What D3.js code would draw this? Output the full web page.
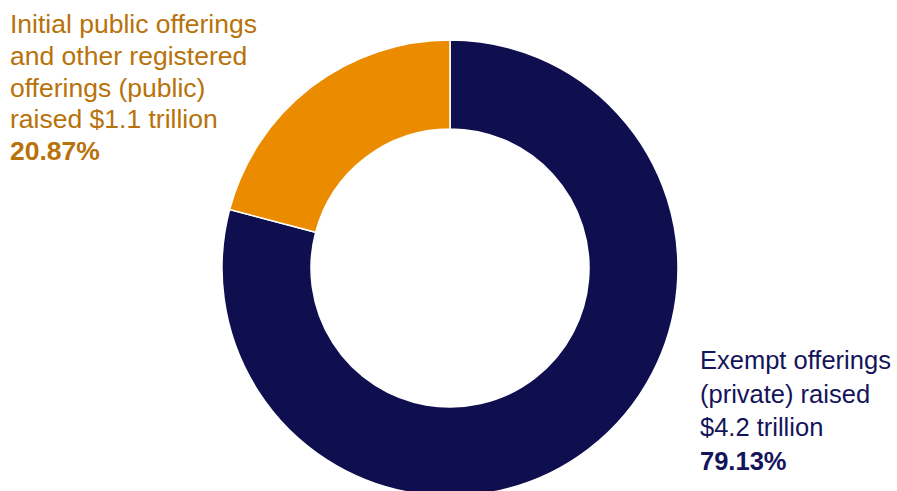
<!DOCTYPE html>
<html>
<head>
<meta charset="utf-8">
<script src="https://cdn.jsdelivr.net/npm/d3@7"></script>
<style>
  body { margin: 0; background: #fff; }
  svg { display: block; font-family: "Liberation Sans", Arial, sans-serif; }
</style>
</head>
<body>
<svg id="chart" width="897" height="491"></svg>
<script>
// data
var categories = ["Exempt offerings (private)", "Initial public offerings and other registered offerings (public)"];
var shares = [79.13, 20.87];
var raised = ["$4.2 trillion", "$1.1 trillion"];
var colors = ["#0f0f50", "#eb8c00"];
var textColors = ["#14145a", "#b8720a"];
var labelLines = [
  ["Exempt offerings", "(private) raised", "$4.2 trillion"],
  ["Initial public offerings", "and other registered", "offerings (public)", "raised $1.1 trillion"]
];

var svg = d3.select("#chart");
var cx = 450, cy = 268, outerR = 228, innerR = 139;

var pie = d3.pie().sort(null).value(function(d) { return d; });
var arc = d3.arc().innerRadius(innerR).outerRadius(outerR);

var g = svg.append("g").attr("transform", "translate(" + cx + "," + cy + ")");
g.selectAll("path")
  .data(pie(shares))
  .enter()
  .append("path")
  .attr("d", arc)
  .attr("fill", function(d, i) { return colors[i]; })
  .attr("stroke", "#fff")
  .attr("stroke-width", 1.5);

// labels
var labelPos = [{x: 700, y: 369, lh: 33.5, fs: 25.5}, {x: 10, y: 33, lh: 31.8, fs: 26.5}];
labelPos.forEach(function(p, i) {
  var t = svg.append("text")
    .attr("x", p.x).attr("y", p.y)
    .attr("fill", textColors[i])
    .style("font-size", p.fs + "px");
  labelLines[i].forEach(function(line, j) {
    t.append("tspan").attr("x", p.x).attr("y", p.y + j * p.lh).text(line);
  });
  t.append("tspan")
    .attr("x", p.x).attr("y", p.y + labelLines[i].length * p.lh)
    .style("font-weight", "bold")
    .text(shares[i].toFixed(2) + "%");
});
</script>
</body>
</html>
